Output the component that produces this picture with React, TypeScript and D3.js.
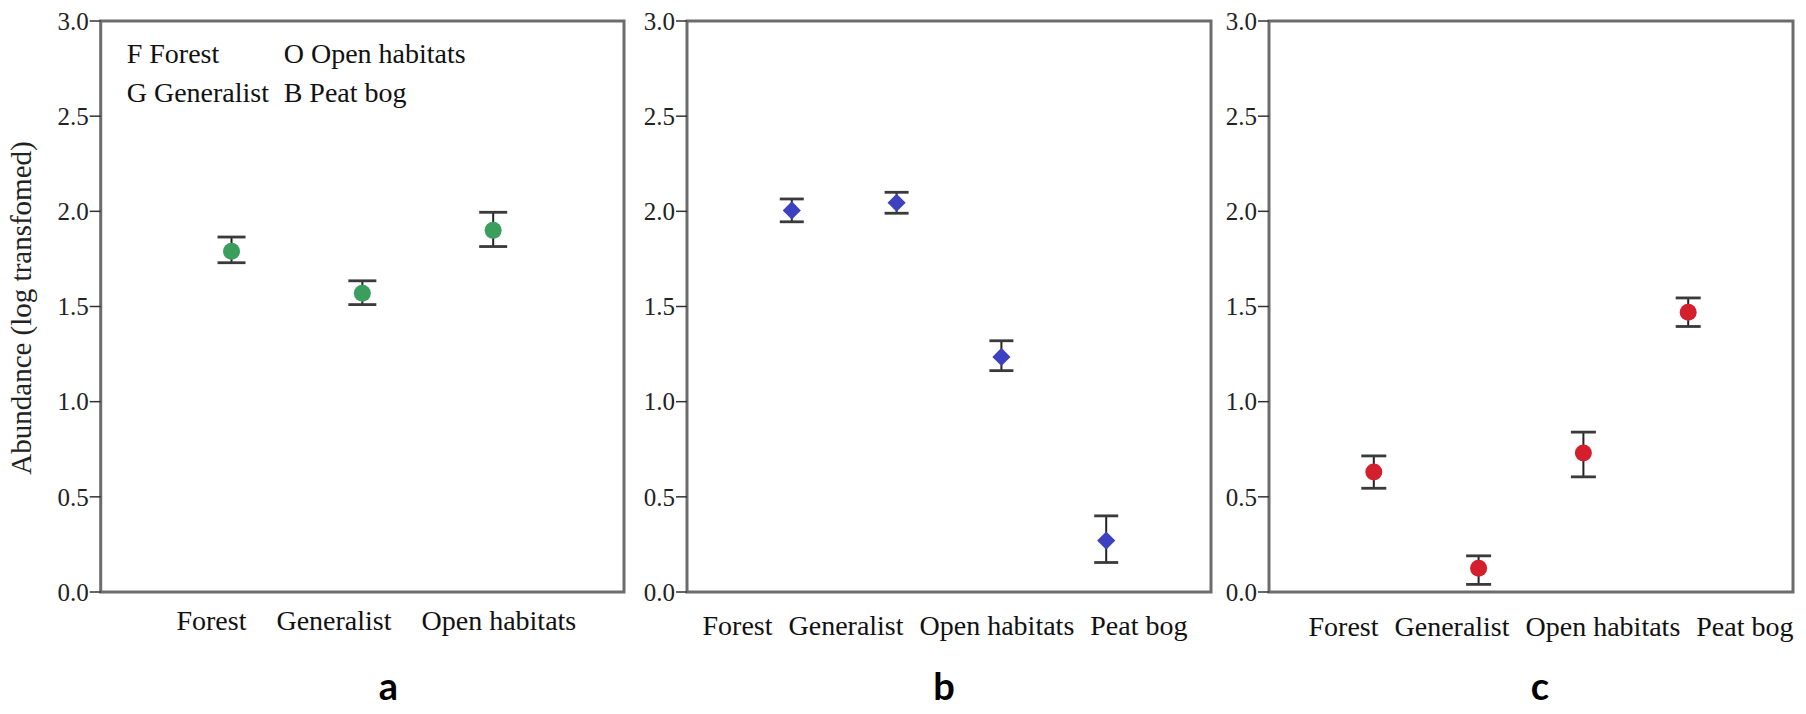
import * as d3 from "d3";

// ---- data ----
const catsA = ["Forest", "Generalist", "Open habitats"];
const meanA = [1.79, 1.57, 1.9];
const lowA = [1.73, 1.51, 1.815];
const highA = [1.865, 1.635, 1.995];

const catsB = ["Forest", "Generalist", "Open habitats", "Peat bog"];
const meanB = [2.005, 2.045, 1.235, 0.27];
const lowB = [1.945, 1.99, 1.163, 0.155];
const highB = [2.065, 2.1, 1.32, 0.4];

const catsC = ["Forest", "Generalist", "Open habitats", "Peat bog"];
const meanC = [0.63, 0.125, 0.73, 1.47];
const lowC = [0.545, 0.04, 0.605, 1.395];
const highC = [0.715, 0.19, 0.84, 1.545];

const yTicks = [0, 0.5, 1, 1.5, 2, 2.5, 3];
const legendRows = [["F Forest", "O Open habitats"], ["G Generalist", "B Peat bog"]];
const yTitle = "Abundance (log transfomed)";

const width = 1806;
const height = 714;
const top = 21;
const bottom = 592;
const serif = "'Liberation Serif', 'Times New Roman', serif";

const y = d3.scaleLinear().domain([0, 3]).range([bottom, top]);

interface PanelProps {
    x0: number,
    x1: number,
    cats: string[],
    mean: number[],
    low: number[],
    high: number[],
    color: string,
    marker: "circle" | "diamond",
    capW: number,
    letter: string,
    letterShift: number,
    labelShift: number,
    labelGap: number,
    labelY: number,
}

const Panel = ({ x0, x1, cats, mean, low, high, color, marker, capW, letter, letterShift, labelShift, labelGap, labelY }: PanelProps) => {
    const x = d3.scalePoint<string>().domain(cats).range([x0, x1]).padding(1);
    const fmt = d3.format(".1f");
    const diamond = d3.symbol(d3.symbolDiamond2, 210)();
    const frame = "#6c6c6c";

    return (
        <g>
            {/* frame */}
            <rect x={x0} y={top} width={x1 - x0} height={bottom - top} fill="none" stroke={frame} strokeWidth={3} />
            {/* y ticks */}
            {yTicks.map((t, i) => (
                <g key={i} transform={`translate(0,${y(t)})`}>
                    <line x1={x0 - 11} x2={x0} stroke="#333" strokeWidth={1.5} />
                    <text x={x0 - 12} dy="0.35em" textAnchor="end" fontFamily={serif} fontSize={25} fill="#222">{fmt(t)}</text>
                </g>
            ))}
            {/* error bars + markers */}
            {cats.map((c, i) => {
                const cx = x(c) as number;
                return (
                    <g key={c}>
                        <line x1={cx} x2={cx} y1={y(high[i])} y2={y(low[i])} stroke="#222" strokeWidth={2} />
                        <line x1={cx - capW / 2} x2={cx + capW / 2} y1={y(high[i])} y2={y(high[i])} stroke="#3a3a3a" strokeWidth={2.8} />
                        <line x1={cx - capW / 2} x2={cx + capW / 2} y1={y(low[i])} y2={y(low[i])} stroke="#3a3a3a" strokeWidth={2.8} />
                        {marker === "circle"
                            ? <circle cx={cx} cy={y(mean[i])} r={8.5} fill={color} />
                            : <path d={diamond} transform={`translate(${cx},${y(mean[i])})`} fill={color} />}
                    </g>
                );
            })}
            {/* category labels, packed in one row */}
            <text x={(x0 + x1) / 2 + labelShift} y={labelY} textAnchor="middle" fontFamily={serif} fontSize={28} fill="#111">
                {cats.map((c, i) => (
                    <tspan key={c} dx={i === 0 ? 0 : labelGap}>{c}</tspan>
                ))}
            </text>
            {/* panel letter */}
            <text x={(x0 + x1) / 2 + letterShift} y={700} textAnchor="middle" fontFamily="Lato, 'Liberation Sans', sans-serif" fontWeight={700} fontSize={38} fill="#000">{letter}</text>
        </g>
    );
}

const App = () => {
    return (
        <svg width={width} height={height} style={{ position: "absolute", left: 0, top: 0, background: "#fff" }}>
            <rect width={width} height={height} fill="#fff" />
            <Panel x0={100.7} x1={624} cats={catsA} mean={meanA} low={lowA} high={highA} color="#3a9e5c" marker="circle"
                capW={28} letter="a" letterShift={26} labelShift={14} labelGap={30} labelY={630} />
            <Panel x0={687} x1={1211} cats={catsB} mean={meanB} low={lowB} high={highB} color="#3c41bf" marker="diamond"
                capW={24} letter="b" letterShift={-5} labelShift={-4} labelGap={16} labelY={635} />
            <Panel x0={1269} x1={1793} cats={catsC} mean={meanC} low={lowC} high={highC} color="#d3202c" marker="circle"
                capW={25} letter="c" letterShift={9} labelShift={20} labelGap={16} labelY={636} />
            {/* legend in panel a */}
            {legendRows.map((row, r) => row.map((t, k) => (
                <text key={t} x={100.7 + 26 + k * 157} y={63 + r * 38.5} fontFamily={serif} fontSize={28} fill="#111">{t}</text>
            )))}
            {/* y axis title */}
            <text transform={`translate(31,308) rotate(-90)`} textAnchor="middle" fontFamily={serif} fontSize={29} fill="#222">{yTitle}</text>
        </svg>
    );
}

export default App;
